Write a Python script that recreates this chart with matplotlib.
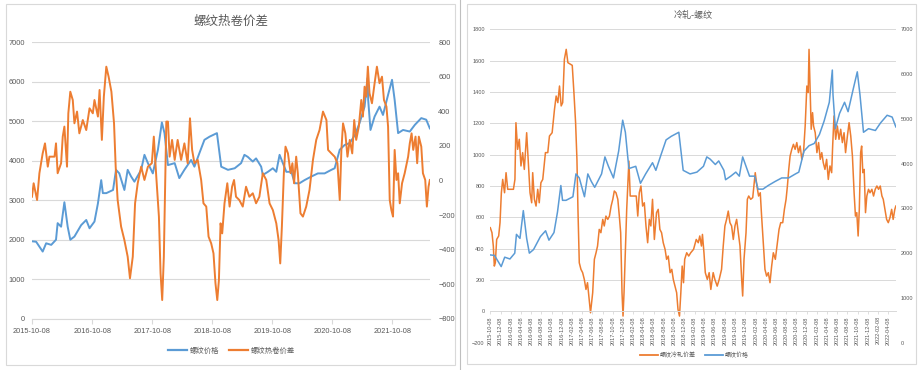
import matplotlib
matplotlib.use("Agg")
import matplotlib.pyplot as plt
import matplotlib.dates as mdates
from matplotlib.lines import Line2D
from matplotlib.patches import Rectangle
import pandas as pd

plt.rcParams['font.family'] = ['Noto Sans CJK SC', 'DejaVu Sans']

# ---------------- data ----------------
rebar_dates = ["2015-10-08","2015-11-02","2015-12-12","2016-01-02","2016-02-02","2016-03-02","2016-03-12","2016-04-02",
    "2016-04-22","2016-05-12","2016-05-28","2016-06-22","2016-08-02","2016-09-02","2016-09-22","2016-10-22","2016-11-12",
    "2016-12-02","2016-12-12","2017-01-02","2017-02-12","2017-03-02","2017-03-22","2017-04-22","2017-05-12","2017-06-02",
    "2017-06-22","2017-08-02","2017-08-22","2017-09-12","2017-10-12","2017-11-12","2017-12-06","2017-12-22","2018-01-12",
    "2018-02-22","2018-03-22","2018-04-22","2018-06-02","2018-06-22","2018-07-22","2018-08-22","2018-09-22","2018-10-12",
    "2018-11-06","2018-12-02","2019-01-12","2019-02-22","2019-04-02","2019-04-22","2019-05-12","2019-06-12","2019-07-02",
    "2019-08-02","2019-08-12","2019-09-12","2019-10-12","2019-11-02","2019-11-22","2019-12-12","2020-01-02","2020-02-02",
    "2020-02-22","2020-03-22","2020-04-22","2020-06-02","2020-07-12","2020-08-22","2020-10-02","2020-10-22","2020-11-22",
    "2020-12-22","2021-01-22","2021-02-22","2021-03-22","2021-04-22","2021-05-10","2021-05-14","2021-05-28","2021-06-22",
    "2021-07-22","2021-08-12","2021-09-12","2021-10-06","2021-10-22","2021-11-12","2021-12-12","2022-01-22","2022-02-22",
    "2022-04-02","2022-05-02","2022-05-24"]
rebar_price = [1960,1950,1700,1910,1870,2000,2420,2330,2950,2330,2000,2080,2370,2500,2290,2460,2920,3510,3180,3180,
    3260,3770,3680,3260,3770,3600,3470,3770,4150,3940,3680,4280,4970,4700,3890,3940,3560,3770,4020,3850,4190,4530,
    4610,4650,4700,3850,3770,3810,3940,4150,4100,3980,4060,3850,3640,3720,3810,3720,4150,3940,3720,3720,3430,3430,
    3510,3600,3680,3680,3770,3810,4280,4400,4450,4650,4950,5370,6090,5540,4780,5120,5370,5160,5670,6050,5540,4700,
    4780,4740,4910,5080,5040,4820]

hrc_dates = ["2015-10-08","2015-10-18","2015-11-08","2015-11-22","2015-12-12","2015-12-26","2016-01-12","2016-01-22",
    "2016-02-22","2016-03-02","2016-03-12","2016-04-02","2016-04-12","2016-04-22","2016-05-08","2016-05-16","2016-05-28",
    "2016-06-12","2016-06-22","2016-07-08","2016-07-22","2016-08-12","2016-09-02","2016-09-22","2016-10-12","2016-10-22",
    "2016-11-12","2016-11-22","2016-12-06","2016-12-18","2017-01-02","2017-01-16","2017-02-02","2017-02-18","2017-02-28",
    "2017-03-12","2017-04-02","2017-04-22","2017-05-12","2017-05-26","2017-06-12","2017-06-26","2017-07-12","2017-08-02",
    "2017-08-22","2017-09-12","2017-10-06","2017-10-18","2017-11-02","2017-11-18","2017-11-28","2017-12-08","2017-12-18",
    "2018-01-02","2018-01-12","2018-01-22","2018-02-06","2018-02-22","2018-03-12","2018-04-02","2018-04-22","2018-05-12",
    "2018-05-26","2018-06-08","2018-06-22","2018-07-12","2018-08-02","2018-08-16","2018-09-02","2018-09-16","2018-10-02",
    "2018-10-16","2018-10-28","2018-11-08","2018-11-18","2018-11-28","2018-12-08","2018-12-22","2019-01-08","2019-01-22",
    "2019-02-06","2019-02-18","2019-03-02","2019-03-22","2019-04-12","2019-05-02","2019-05-22","2019-06-12","2019-07-02",
    "2019-07-22","2019-08-12","2019-09-02","2019-09-22","2019-10-12","2019-11-02","2019-11-16","2019-11-26","2019-12-06",
    "2019-12-18","2019-12-28","2020-01-12","2020-01-28","2020-02-08","2020-02-18","2020-03-02","2020-03-12","2020-03-28",
    "2020-04-12","2020-05-02","2020-05-22","2020-06-12","2020-07-02","2020-07-22","2020-08-12","2020-09-02","2020-09-12",
    "2020-10-02","2020-10-22","2020-11-08","2020-11-22","2020-12-02","2020-12-12","2020-12-26","2021-01-08","2021-01-22",
    "2021-02-06","2021-02-18","2021-03-02","2021-03-18","2021-04-02","2021-04-12","2021-04-22","2021-05-02","2021-05-12",
    "2021-05-22","2021-06-06","2021-06-22","2021-07-06","2021-07-22","2021-08-06","2021-08-18","2021-09-02","2021-09-12",
    "2021-09-22","2021-10-02","2021-10-12","2021-10-22","2021-11-02","2021-11-12","2021-11-22","2021-12-06","2021-12-22",
    "2022-01-12","2022-01-22","2022-02-02","2022-02-12","2022-02-26","2022-03-08","2022-03-18","2022-04-02","2022-04-12",
    "2022-04-26","2022-05-06","2022-05-16","2022-05-24"]
hrc_spread = [-94,-16,-113,42,157,215,80,138,138,215,42,100,254,312,80,389,514,466,331,399,273,350,292,418,389,466,
    370,524,235,485,659,601,514,331,80,-113,-267,-345,-441,-566,-441,-132,-16,80,3,80,100,254,22,-209,-537,-692,-441,
    341,341,138,235,119,235,119,215,100,360,177,100,119,3,-132,-151,-325,-364,-422,-595,-692,-576,-248,-306,-132,-16,
    -151,-36,3,-94,-113,-151,-36,-94,-74,-132,-94,42,3,-132,-171,-248,-345,-480,-267,42,196,157,42,100,-16,138,42,
    -190,-209,-151,-55,119,235,292,399,350,177,157,138,100,-113,177,331,273,138,235,157,350,235,312,466,370,543,485,
    659,505,447,563,659,563,601,466,428,312,-113,-171,-209,177,3,42,-132,-16,42,138,215,273,177,254,100,254,196,42,
    3,-151,-36,3]

crc_dates = ["2015-10-08","2015-10-18","2015-10-26","2015-11-01","2015-11-07","2015-11-15","2015-11-27","2015-12-05",
    "2015-12-13","2015-12-21","2016-01-01","2016-01-10","2016-01-20","2016-02-09","2016-02-23","2016-03-03","2016-03-09",
    "2016-03-19","2016-03-29","2016-04-08","2016-04-18","2016-04-28","2016-05-12","2016-05-22","2016-06-01","2016-06-11",
    "2016-06-17","2016-06-27","2016-07-07","2016-07-17","2016-07-26","2016-08-05","2016-08-16","2016-09-01","2016-09-15",
    "2016-09-25","2016-10-11","2016-10-25","2016-11-04","2016-11-14","2016-11-24","2016-12-04","2016-12-13","2016-12-23",
    "2017-01-03","2017-01-13","2017-02-08","2017-02-18","2017-02-28","2017-03-08","2017-03-14","2017-03-22","2017-04-01",
    "2017-04-11","2017-04-21","2017-05-01","2017-05-10","2017-05-20","2017-05-28","2017-06-10","2017-06-20","2017-06-30",
    "2017-07-09","2017-07-19","2017-07-29","2017-08-09","2017-08-18","2017-08-28","2017-09-08","2017-09-18","2017-09-28",
    "2017-10-08","2017-10-17","2017-10-27","2017-11-07","2017-11-16","2017-11-24","2017-12-02","2017-12-08","2017-12-14",
    "2017-12-30","2018-01-12","2018-01-20","2018-02-05","2018-02-25","2018-03-06","2018-03-15","2018-03-25","2018-04-04",
    "2018-04-14","2018-04-24","2018-05-04","2018-05-14","2018-05-23","2018-06-02","2018-06-13","2018-06-26","2018-07-06",
    "2018-07-16","2018-07-26","2018-08-05","2018-08-16","2018-08-25","2018-09-04","2018-09-15","2018-09-25","2018-10-04",
    "2018-10-14","2018-10-24","2018-11-01","2018-11-10","2018-11-18","2018-11-26","2018-12-04","2018-12-11","2018-12-23",
    "2019-01-04","2019-01-16","2019-02-02","2019-02-18","2019-03-02","2019-03-11","2019-03-21","2019-03-27","2019-04-05",
    "2019-04-13","2019-04-25","2019-05-06","2019-05-16","2019-05-30","2019-06-09","2019-06-23","2019-07-05","2019-07-19",
    "2019-07-29","2019-08-08","2019-08-18","2019-08-28","2019-09-07","2019-09-17","2019-09-27","2019-10-07","2019-10-17",
    "2019-10-27","2019-11-06","2019-11-16","2019-11-22","2019-11-30","2019-12-12","2019-12-20","2019-12-28","2020-01-09",
    "2020-01-21","2020-02-05","2020-02-15","2020-02-25","2020-03-06","2020-03-14","2020-03-24","2020-04-03","2020-04-13",
    "2020-04-23","2020-05-03","2020-05-13","2020-05-23","2020-06-04","2020-06-16","2020-06-26","2020-07-06","2020-07-18",
    "2020-07-28","2020-08-07","2020-08-15","2020-08-23","2020-08-31","2020-09-10","2020-09-20","2020-09-30","2020-10-10",
    "2020-10-20","2020-10-30","2020-11-09","2020-11-19","2020-11-29","2020-12-09","2020-12-17","2020-12-22","2020-12-28",
    "2021-01-04","2021-01-12","2021-01-18","2021-01-28","2021-02-07","2021-02-17","2021-02-27","2021-03-08","2021-03-17",
    "2021-03-27","2021-04-06","2021-04-16","2021-04-26","2021-05-06","2021-05-12","2021-05-20","2021-05-30","2021-06-09",
    "2021-06-19","2021-06-29","2021-07-09","2021-07-19","2021-07-28","2021-08-08","2021-08-18","2021-08-28","2021-09-07",
    "2021-09-17","2021-09-25","2021-10-03","2021-10-11","2021-10-18","2021-10-26","2021-11-01","2021-11-08","2021-11-16",
    "2021-11-24","2021-12-02","2021-12-12","2021-12-21","2022-01-01","2022-01-11","2022-01-21","2022-01-31","2022-02-10",
    "2022-02-20","2022-03-02","2022-03-10","2022-03-20","2022-03-30","2022-04-09","2022-04-19","2022-04-29","2022-05-08",
    "2022-05-18","2022-05-24"]
crc_spread = [534,502,417,289,310,459,481,566,757,842,757,885,779,779,779,842,1204,1034,1098,928,1013,906,1140,949,
    757,693,885,715,672,779,693,821,842,1013,1013,1119,1140,1289,1374,1332,1438,1311,1332,1608,1672,1587,1570,1396,
    1204,970,651,310,268,247,204,140,183,76,-9,119,332,374,417,523,502,587,545,608,587,608,672,715,768,757,715,608,
    502,119,-30,119,651,959,736,736,736,608,757,800,672,693,545,438,587,545,715,459,630,651,523,502,438,396,332,353,
    247,268,204,161,119,13,-30,119,289,183,332,374,353,374,396,459,438,481,417,491,374,247,204,247,140,247,204,161,
    204,268,417,545,587,640,566,545,459,545,587,502,417,204,98,332,502,715,736,715,726,885,800,736,757,608,438,268,
    225,247,183,289,374,332,438,523,566,566,651,715,800,906,991,1034,1066,1034,1077,1013,1055,970,1013,1183,1438,
    1396,1672,1438,1162,1268,1183,1140,1013,1077,970,1013,949,906,970,842,928,885,1055,1247,1098,1183,1098,1162,
    1077,1140,1013,1119,1204,1119,991,757,608,630,481,651,1013,1055,885,906,630,736,779,757,779,736,779,800,779,800,
    736,715,651,587,566,598,651,587,651,672]

left_title = "螺纹热卷价差"
right_title = "冷轧-螺纹"
left_series = ["螺纹价格", "螺纹热卷价差"]
right_series = ["螺纹冷轧价差", "螺纹价格"]
left_xticks = ["2015-10-08", "2016-10-08", "2017-10-08", "2018-10-08", "2019-10-08", "2020-10-08", "2021-10-08"]
right_xticks = [f"{y}-{m:02d}-08" for y in range(2015, 2023) for m in range(2, 13, 2)]
right_xticks = ["2015-10-08", "2015-12-08"] + [d for d in right_xticks if "2016-01-01" <= d <= "2022-04-08"]

# ---------------- style ----------------
BLUE = "#5B9BD5"
ORANGE = "#ED7D31"
GRID = "#D9D9D9"
TXT = "#595959"
W, H = 921, 370
TICKFONT = ["Liberation Sans", "DejaVu Sans"]

fig = plt.figure(figsize=(W / 100, H / 100), dpi=100)
fig.patch.set_facecolor("white")

def px_rect(x0, y0, x1, y1):
    return [x0 / W, 1 - y1 / H, (x1 - x0) / W, (y1 - y0) / H]

# panel borders
for (x0, y0, x1, y1) in [(6, 4, 455, 365), (467, 4, 916, 364)]:
    fig.patches.append(Rectangle((x0 / W, 1 - y1 / H), (x1 - x0) / W, (y1 - y0) / H,
                                 transform=fig.transFigure, fill=False, edgecolor=GRID, lw=0.8))
fig.add_artist(Line2D([459.5 / W, 459.5 / W], [0, 1], color="#BFBFBF", lw=0.8))

rd = pd.to_datetime(rebar_dates)
hd = pd.to_datetime(hrc_dates)
cd = pd.to_datetime(crc_dates)
x_start = pd.Timestamp("2015-10-08")
x_end = pd.Timestamp("2022-05-25")

# ---------------- left chart ----------------
ax1 = fig.add_axes(px_rect(32, 42.3, 430, 318.7))
ax1.plot(rd, rebar_price, color=BLUE, lw=1.4)
ax1.set_ylim(0, 7000)
ax1.set_yticks(range(0, 7001, 1000))
ax1.set_xlim(x_start, x_end)
ax1.yaxis.grid(True, color=GRID, lw=0.8)
ax1.set_axisbelow(True)
for s in ["top", "left", "right"]:
    ax1.spines[s].set_visible(False)
ax1.spines["bottom"].set_color(GRID)
ax1.spines["bottom"].set_linewidth(0.8)
ax1.set_xticks(pd.to_datetime(left_xticks))
ax1.set_xticklabels(left_xticks)
ax1.tick_params(axis="x", length=3.5, color=GRID, width=0.8, pad=3, labelsize=5.3, labelcolor=TXT)
ax1.tick_params(axis="y", length=0, pad=5, labelsize=5.3, labelcolor=TXT)
for t in ax1.get_xticklabels() + ax1.get_yticklabels():
    t.set_family(TICKFONT)

ax1b = ax1.twinx()
ax1b.plot(hd, hrc_spread, color=ORANGE, lw=1.4)
ax1b.set_ylim(-800, 800)
ax1b.set_yticks(range(-800, 801, 200))
for s in ["top", "left", "right", "bottom"]:
    ax1b.spines[s].set_visible(False)
ax1b.tick_params(axis="y", length=0, pad=6, labelsize=5.3, labelcolor=TXT)
for t in ax1b.get_yticklabels():
    t.set_family(TICKFONT)

fig.text(231 / W, 1 - 21 / H, left_title, ha="center", va="center", fontsize=9, color=TXT)
h1 = [Line2D([], [], color=BLUE, lw=1.6), Line2D([], [], color=ORANGE, lw=1.6)]
fig.legend(h1, left_series, loc="center", bbox_to_anchor=(231.5 / W, 1 - 351 / H), ncol=2,
           frameon=False, fontsize=5.3, handlelength=2.6, handletextpad=0.4, columnspacing=1.2,
           labelcolor=TXT)

# ---------------- right chart ----------------
ax2 = fig.add_axes(px_rect(490.3, 29.3, 896, 342.7))
ax2.plot(cd, crc_spread, color=ORANGE, lw=1.1)
ax2.set_ylim(-200, 1800)
ax2.set_yticks(range(-200, 1801, 200))
ax2.set_xlim(x_start, x_end)
ax2.yaxis.grid(True, color=GRID, lw=0.7)
ax2.set_axisbelow(True)
for s in ["top", "left", "right"]:
    ax2.spines[s].set_visible(False)
ax2.spines["bottom"].set_position(("data", 0))
ax2.spines["bottom"].set_color(GRID)
ax2.spines["bottom"].set_linewidth(0.7)
ax2.set_xticks(pd.to_datetime(right_xticks))
ax2.set_xticklabels(right_xticks, rotation=90)
ax2.tick_params(axis="x", length=2, color=GRID, width=0.6, pad=1.5, labelsize=4.0, labelcolor=TXT)
ax2.tick_params(axis="y", length=0, pad=4, labelsize=4.0, labelcolor=TXT)
for t in ax2.get_xticklabels() + ax2.get_yticklabels():
    t.set_family(TICKFONT)

ax2b = ax2.twinx()
ax2b.plot(rd, rebar_price, color=BLUE, lw=1.1)
ax2b.set_ylim(0, 7000)
ax2b.set_yticks(range(0, 7001, 1000))
for s in ["top", "left", "right", "bottom"]:
    ax2b.spines[s].set_visible(False)
ax2b.tick_params(axis="y", length=0, pad=3.5, labelsize=4.0, labelcolor=TXT)
for t in ax2b.get_yticklabels():
    t.set_family(TICKFONT)

fig.text(693 / W, 1 - 15 / H, right_title, ha="center", va="center", fontsize=6.5, color=TXT)
h2 = [Line2D([], [], color=ORANGE, lw=1.3), Line2D([], [], color=BLUE, lw=1.3)]
fig.legend(h2, right_series, loc="center", bbox_to_anchor=(694.5 / W, 1 - 355 / H), ncol=2,
           frameon=False, fontsize=4.3, handlelength=3.0, handletextpad=0.4, columnspacing=1.5,
           labelcolor=TXT)

fig.savefig("out.png", dpi=100, facecolor="white")
